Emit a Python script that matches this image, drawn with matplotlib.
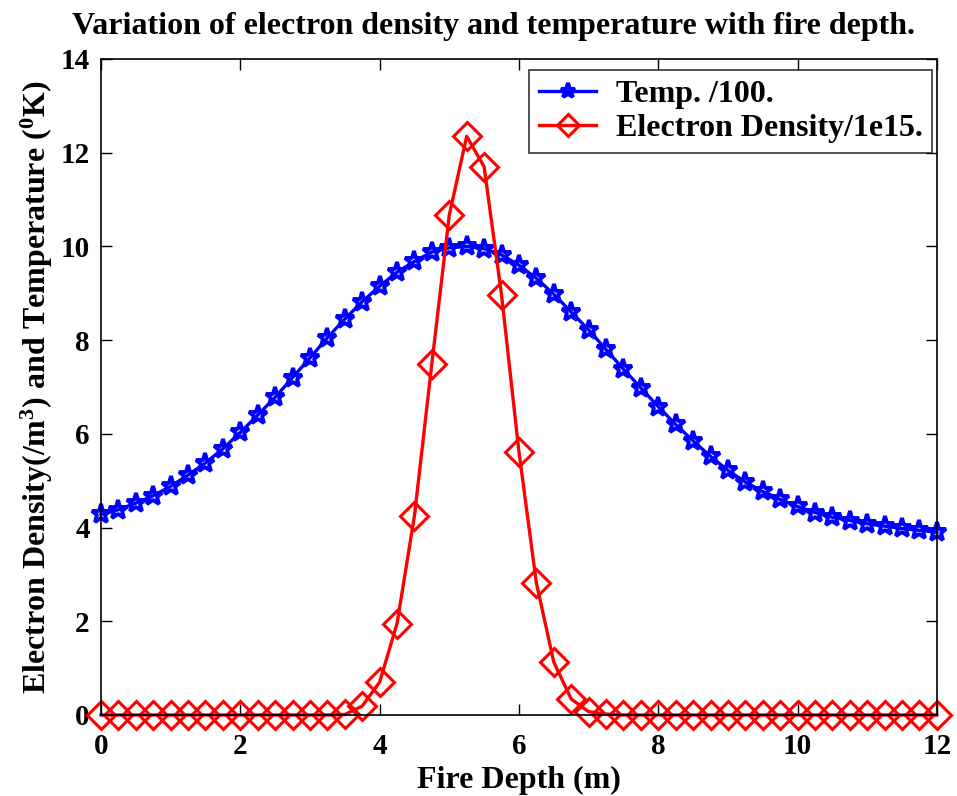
import matplotlib
matplotlib.use("Agg")
import matplotlib.pyplot as plt
import numpy as np

depth = [0.0, 0.25, 0.5, 0.75, 1.0, 1.25, 1.5, 1.75, 2.0, 2.25, 2.5, 2.75,
         3.0, 3.25, 3.5, 3.75, 4.0, 4.25, 4.5, 4.75, 5.0, 5.25, 5.5, 5.75,
         6.0, 6.25, 6.5, 6.75, 7.0, 7.25, 7.5, 7.75, 8.0, 8.25, 8.5, 8.75,
         9.0, 9.25, 9.5, 9.75, 10.0, 10.25, 10.5, 10.75, 11.0, 11.25, 11.5, 11.75, 12.0]

temp = [4.28, 4.38, 4.52, 4.68, 4.88, 5.12, 5.38, 5.68, 6.03, 6.40, 6.78, 7.20,
        7.62, 8.05, 8.45, 8.82, 9.15, 9.45, 9.68, 9.88, 9.97, 10.0, 9.95, 9.82,
        9.60, 9.32, 8.98, 8.60, 8.22, 7.80, 7.38, 6.98, 6.58, 6.20, 5.85, 5.52,
        5.22, 4.97, 4.77, 4.60, 4.45, 4.32, 4.22, 4.15, 4.08, 4.03, 3.98, 3.94, 3.90]

density = [0, 0, 0, 0, 0, 0, 0, 0, 0, 0, 0, 0,
           0, 0, 0.01, 0.19, 0.70, 1.95, 4.25, 7.50, 10.67, 12.35, 11.70, 8.97,
           5.62, 2.82, 1.13, 0.34, 0.07, 0.02, 0, 0, 0, 0, 0, 0,
           0, 0, 0, 0, 0, 0, 0, 0, 0, 0, 0, 0, 0]

xticks = [0, 2, 4, 6, 8, 10, 12]
yticks = [0, 2, 4, 6, 8, 10, 12, 14]

plt.rcParams['font.family'] = ['Liberation Serif', 'DejaVu Serif']
plt.rcParams['font.weight'] = 'bold'
plt.rcParams['mathtext.fontset'] = 'custom'
plt.rcParams['mathtext.rm'] = 'Liberation Serif:bold'
plt.rcParams['mathtext.default'] = 'rm'

fig = plt.figure(figsize=(9.57, 7.96), dpi=100)
ax = fig.add_axes([0.1055, 0.1018, 0.8735, 0.8241])

ax.plot(depth, temp, color='#0000ff', lw=2.4, marker='*', markersize=14,
        mfc='none', mec='#0000ff', mew=2.8, label='Temp. /100.', clip_on=False)
ax.plot(depth, density, color='#ff0000', lw=2.4, marker='D', markersize=14.5,
        mfc='none', mec='#ff0000', mew=2.2, label='Electron Density/1e15.',
        clip_on=False)

ax.set_xlim(0, 12)
ax.set_ylim(0, 14)
ax.set_xticks(xticks)
ax.set_yticks(yticks)
ax.tick_params(direction='in', length=8, width=1, top=True, right=True,
               labelsize=21)
ax.tick_params(axis='x', pad=13)
ax.tick_params(axis='y', pad=8)
for lab in ax.get_xticklabels() + ax.get_yticklabels():
    lab.set_fontweight('bold')
for s in ax.spines.values():
    s.set_linewidth(1.2)

ax.set_xlabel('Fire Depth (m)', fontsize=23, fontweight='bold', labelpad=4)
ax.set_ylabel('Electron Density(/m$^3$) and Temperature ($^0$K)', fontsize=23,
              fontweight='bold', labelpad=4)
ax.set_title('Variation of electron density and temperature with fire depth.',
             fontsize=23, fontweight='bold', pad=18, x=0.47)

leg = ax.legend(loc='upper right', bbox_to_anchor=(932 / 957, (796 - 70) / 796),
                bbox_transform=fig.transFigure, fontsize=23, frameon=True,
                fancybox=False, edgecolor='black', borderaxespad=0,
                handlelength=1.8, handletextpad=0.6, borderpad=0.3,
                labelspacing=0.15, markerscale=0.8)
leg.get_frame().set_linewidth(1.2)
for t in leg.get_texts():
    t.set_fontweight('bold')

fig.savefig('out.png', dpi=100)
